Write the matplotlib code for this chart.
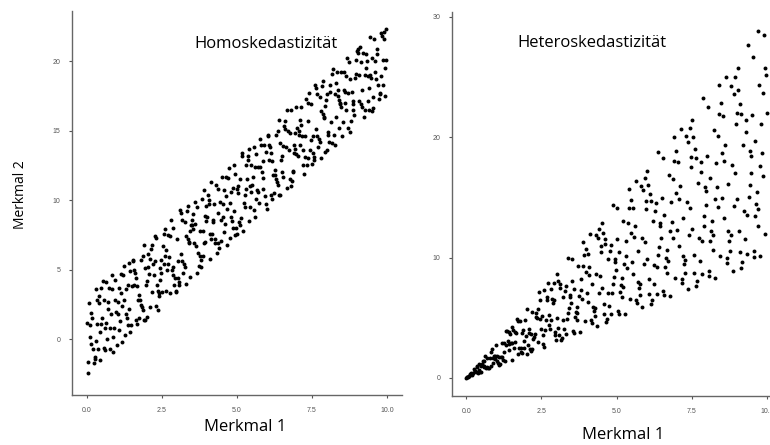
import matplotlib
matplotlib.use("Agg")
import matplotlib.pyplot as plt

# Homoskedastizität: Merkmal 1 / Merkmal 2 (je Streifen von 0.5)
homo_x = [0.31, 0.07, 0.44, 0.18, 0.02, 0.39, 0.26, 0.11, 0.48, 0.21, 0.35, 0.04, 0.15, 0.42, 0.29, 0.09, 0.37, 0.23, 0.46, 0.13, 0.33, 0.01, 0.27, 0.40,
          0.83, 0.56, 0.97, 0.64, 0.51, 0.78, 0.90, 0.69, 0.59, 0.86, 0.73, 0.95, 0.53, 0.67, 0.81, 0.61, 0.92, 0.76, 0.58, 0.88, 0.70, 0.99, 0.63, 0.85,
          1.27, 1.04, 1.41, 1.13, 1.36, 1.08, 1.22, 1.47, 1.02, 1.31, 1.18, 1.44, 1.10, 1.25, 1.39, 1.06, 1.33, 1.16, 1.49, 1.20, 1.29, 1.43, 1.12, 1.37,
          1.77, 1.54, 1.91, 1.63, 1.86, 1.58, 1.72, 1.97, 1.52, 1.81, 1.68, 1.94, 1.60, 1.75, 1.89, 1.56, 1.83, 1.66, 1.99, 1.70, 1.79, 1.93, 1.62, 1.87,
          2.31, 2.07, 2.44, 2.18, 2.02, 2.39, 2.26, 2.11, 2.48, 2.21, 2.35, 2.04, 2.15, 2.42, 2.29, 2.09, 2.37, 2.23, 2.46, 2.13, 2.33, 2.01, 2.27, 2.40,
          2.83, 2.56, 2.97, 2.64, 2.51, 2.78, 2.90, 2.69, 2.59, 2.86, 2.73, 2.95, 2.53, 2.67, 2.81, 2.61, 2.92, 2.76, 2.58, 2.88, 2.70, 2.99, 2.63, 2.85,
          3.27, 3.04, 3.41, 3.13, 3.36, 3.08, 3.22, 3.47, 3.02, 3.31, 3.18, 3.44, 3.10, 3.25, 3.39, 3.06, 3.33, 3.16, 3.49, 3.20, 3.29, 3.43, 3.12, 3.37,
          3.81, 3.57, 3.94, 3.68, 3.52, 3.89, 3.76, 3.61, 3.98, 3.71, 3.85, 3.54, 3.65, 3.92, 3.79, 3.59, 3.87, 3.73, 3.96, 3.63, 3.83, 3.51, 3.77, 3.90,
          4.33, 4.06, 4.47, 4.14, 4.01, 4.28, 4.40, 4.19, 4.09, 4.36, 4.23, 4.45, 4.03, 4.17, 4.31, 4.11, 4.42, 4.26, 4.08, 4.38, 4.20, 4.49, 4.13, 4.35,
          4.77, 4.54, 4.91, 4.63, 4.86, 4.58, 4.72, 4.97, 4.52, 4.81, 4.68, 4.94, 4.60, 4.75, 4.89, 4.56, 4.83, 4.66, 4.99, 4.70, 4.79, 4.93, 4.62, 4.87,
          5.31, 5.07, 5.44, 5.18, 5.02, 5.39, 5.26, 5.11, 5.48, 5.21, 5.35, 5.04, 5.15, 5.42, 5.29, 5.09, 5.37, 5.23, 5.46, 5.13, 5.33, 5.01, 5.27, 5.40,
          5.83, 5.56, 5.97, 5.64, 5.51, 5.78, 5.90, 5.69, 5.59, 5.86, 5.73, 5.95, 5.53, 5.67, 5.81, 5.61, 5.92, 5.76, 5.58, 5.88, 5.70, 5.99, 5.63, 5.85,
          6.27, 6.04, 6.41, 6.13, 6.36, 6.08, 6.22, 6.47, 6.02, 6.31, 6.18, 6.44, 6.10, 6.25, 6.39, 6.06, 6.33, 6.16, 6.49, 6.20, 6.29, 6.43, 6.12, 6.37,
          6.81, 6.57, 6.94, 6.68, 6.52, 6.89, 6.76, 6.61, 6.98, 6.71, 6.85, 6.54, 6.65, 6.92, 6.79, 6.59, 6.87, 6.73, 6.96, 6.63, 6.83, 6.51, 6.77, 6.90,
          7.33, 7.06, 7.47, 7.14, 7.01, 7.28, 7.40, 7.19, 7.09, 7.36, 7.23, 7.45, 7.03, 7.17, 7.31, 7.11, 7.42, 7.26, 7.08, 7.38, 7.20, 7.49, 7.13, 7.35,
          7.77, 7.54, 7.91, 7.63, 7.86, 7.58, 7.72, 7.97, 7.52, 7.81, 7.68, 7.94, 7.60, 7.75, 7.89, 7.56, 7.83, 7.66, 7.99, 7.70, 7.79, 7.93, 7.62, 7.87,
          8.31, 8.07, 8.44, 8.18, 8.02, 8.39, 8.26, 8.11, 8.48, 8.21, 8.35, 8.04, 8.15, 8.42, 8.29, 8.09, 8.37, 8.23, 8.46, 8.13, 8.33, 8.01, 8.27, 8.40,
          8.83, 8.56, 8.97, 8.64, 8.51, 8.78, 8.90, 8.69, 8.59, 8.86, 8.73, 8.95, 8.53, 8.67, 8.81, 8.61, 8.92, 8.76, 8.58, 8.88, 8.70, 8.99, 8.63, 8.85,
          9.27, 9.04, 9.41, 9.13, 9.36, 9.08, 9.22, 9.47, 9.02, 9.31, 9.18, 9.44, 9.10, 9.25, 9.39, 9.06, 9.33, 9.16, 9.49, 9.20, 9.29, 9.43, 9.12, 9.37,
          9.81, 9.57, 9.94, 9.68, 9.52, 9.89, 9.76, 9.61, 9.98, 9.71, 9.85, 9.54, 9.65, 9.92, 9.79, 9.59, 9.87, 9.73, 9.96, 9.63, 9.83, 9.51, 9.77, 9.90]
homo_y = [-0.1, 2.6, -1.5, 1.5, -1.6, 2.6, -1.4, 0.2, 3.7, -0.7, 1.1, -2.4, 1.9, 0.5, 3.6, 1.0, -0.7, -1.7, 1.1, -0.3, 2.8, 1.2, -1.3, 3.1,
          3.6, -0.6, 2.0, 4.1, 1.5, -0.7, 0.8, 2.7, 0.8, -0.9, 3.7, 2.8, 4.2, 0.0, 1.8, -0.8, 4.3, 0.8, 2.8, 0.2, 2.2, -0.4, 1.2, 4.6,
          0.3, 2.7, 2.2, 4.7, 3.9, 0.7, 5.3, 1.0, 1.8, 3.6, -0.2, 4.9, 1.3, 2.8, 5.5, 3.7, 1.5, 2.4, 3.8, 4.6, 1.8, 0.5, 3.3, 1.0,
          2.8, 5.6, 1.4, 4.4, 2.1, 5.0, 1.5, 3.9, 5.7, 2.5, 3.8, 1.4, 4.8, 3.2, 6.8, 3.9, 2.3, 1.1, 4.2, 2.8, 5.7, 5.1, 1.4, 6.0,
          2.4, 4.7, 4.3, 6.8, 5.2, 3.3, 7.4, 2.3, 4.8, 5.4, 2.1, 6.1, 3.4, 5.1, 7.3, 5.8, 3.5, 4.6, 5.7, 6.5, 3.9, 1.6, 5.6, 3.1,
          5.0, 7.6, 3.5, 6.4, 3.4, 7.4, 3.9, 5.4, 7.9, 4.6, 5.9, 3.4, 6.7, 5.0, 8.6, 6.0, 4.4, 3.3, 5.4, 5.2, 7.5, 7.2, 3.5, 8.0,
          8.4, 4.4, 6.9, 9.1, 7.2, 3.9, 5.4, 8.2, 5.6, 4.0, 8.6, 7.8, 9.3, 5.2, 7.0, 4.1, 9.2, 5.6, 8.6, 4.8, 7.4, 4.5, 6.1, 9.6,
          5.7, 6.9, 8.9, 4.8, 9.0, 6.9, 7.8, 9.9, 9.6, 6.2, 7.8, 7.9, 9.5, 7.0, 5.2, 8.3, 6.0, 5.3, 8.5, 6.7, 10.1, 8.2, 6.0, 10.7,
          6.2, 9.7, 8.6, 11.3, 8.8, 7.2, 6.6, 8.6, 7.6, 10.8, 9.7, 7.1, 10.4, 7.6, 11.1, 5.8, 9.9, 6.9, 10.0, 6.9, 8.4, 11.7, 7.2, 9.1,
          7.3, 9.7, 9.2, 11.7, 10.9, 7.7, 12.3, 8.0, 8.8, 10.6, 6.8, 11.9, 8.3, 9.8, 12.5, 10.7, 8.5, 9.4, 10.8, 11.6, 8.8, 7.5, 10.3, 8.0,
          12.5, 8.4, 11.0, 13.2, 10.5, 8.5, 9.5, 11.5, 10.6, 7.8, 12.9, 11.0, 13.4, 9.5, 10.8, 8.2, 13.2, 9.8, 12.5, 8.7, 11.5, 7.6, 10.4, 13.7,
          12.0, 13.8, 13.5, 10.1, 11.1, 12.4, 14.0, 10.6, 8.8, 12.8, 9.8, 9.7, 11.7, 10.7, 14.0, 12.4, 10.3, 14.4, 9.3, 11.6, 12.4, 9.4, 13.3, 10.8,
          11.8, 14.6, 10.4, 13.4, 11.1, 14.0, 10.5, 12.9, 14.7, 11.5, 12.8, 10.4, 13.8, 12.2, 15.8, 12.9, 11.3, 10.1, 13.2, 11.8, 14.7, 14.1, 10.4, 15.0,
          11.0, 15.3, 14.8, 16.5, 11.7, 14.0, 11.5, 15.7, 13.3, 15.0, 12.1, 13.9, 10.9, 13.7, 16.5, 15.1, 12.0, 13.6, 16.7, 13.8, 11.4, 12.0, 14.8, 13.4,
          12.5, 14.7, 14.3, 16.7, 15.2, 13.1, 17.7, 12.5, 14.0, 15.7, 11.9, 16.9, 13.2, 14.6, 17.3, 15.8, 13.6, 14.6, 15.0, 17.0, 13.6, 12.6, 15.4, 13.0,
          17.4, 13.4, 15.9, 18.1, 16.2, 12.9, 14.4, 17.2, 14.6, 13.0, 17.6, 16.8, 18.3, 14.2, 16.0, 13.1, 18.2, 14.6, 17.6, 13.8, 16.4, 13.5, 15.1, 18.6,
          18.4, 14.2, 16.9, 19.1, 14.9, 17.2, 14.0, 17.8, 16.7, 19.4, 17.5, 14.7, 14.1, 17.0, 16.0, 18.3, 17.9, 14.7, 19.2, 15.6, 19.2, 13.6, 17.6, 15.2,
          17.8, 17.9, 20.1, 16.5, 14.6, 18.7, 16.1, 15.2, 17.8, 17.1, 19.9, 19.1, 15.6, 20.2, 15.7, 17.0, 18.8, 14.9, 19.2, 16.9, 17.7, 20.7, 18.9, 16.5,
          16.5, 20.6, 18.1, 19.9, 17.1, 19.0, 16.0, 18.8, 20.9, 20.5, 16.7, 19.0, 21.0, 19.0, 16.5, 17.1, 20.0, 17.9, 16.4, 20.6, 19.5, 21.7, 16.9, 18.9,
          18.9, 21.6, 17.5, 20.5, 17.4, 21.6, 17.6, 19.2, 22.3, 18.3, 20.1, 16.6, 20.9, 19.5, 22.0, 20.0, 18.3, 17.3, 20.1, 18.7, 21.8, 20.2, 17.7, 22.1]

# Heteroskedastizität: Merkmal 1 / Merkmal 2
hetero_x = [0.31, 0.07, 0.44, 0.18, 0.02, 0.39, 0.26, 0.11, 0.48, 0.21, 0.35, 0.04, 0.15, 0.42, 0.29, 0.09, 0.37, 0.23, 0.46, 0.13, 0.33, 0.01,
            0.83, 0.56, 0.97, 0.64, 0.51, 0.78, 0.90, 0.69, 0.59, 0.86, 0.73, 0.95, 0.53, 0.67, 0.81, 0.61, 0.92, 0.76, 0.58, 0.88, 0.70, 0.99,
            1.27, 1.04, 1.41, 1.13, 1.36, 1.08, 1.22, 1.47, 1.02, 1.31, 1.18, 1.44, 1.10, 1.25, 1.39, 1.06, 1.33, 1.16, 1.49, 1.20, 1.29, 1.43,
            1.81, 1.57, 1.94, 1.68, 1.52, 1.89, 1.76, 1.61, 1.98, 1.71, 1.85, 1.54, 1.65, 1.92, 1.79, 1.59, 1.87, 1.73, 1.96, 1.63, 1.83, 1.51,
            2.33, 2.06, 2.47, 2.14, 2.01, 2.28, 2.40, 2.19, 2.09, 2.36, 2.23, 2.45, 2.03, 2.17, 2.31, 2.11, 2.42, 2.26, 2.08, 2.38, 2.20, 2.49,
            2.77, 2.54, 2.91, 2.63, 2.86, 2.58, 2.72, 2.97, 2.52, 2.81, 2.68, 2.94, 2.60, 2.75, 2.89, 2.56, 2.83, 2.66, 2.99, 2.70, 2.79, 2.93,
            3.31, 3.07, 3.44, 3.18, 3.02, 3.39, 3.26, 3.11, 3.48, 3.21, 3.35, 3.04, 3.15, 3.42, 3.29, 3.09, 3.37, 3.23, 3.46, 3.13, 3.33, 3.01,
            3.83, 3.56, 3.97, 3.64, 3.51, 3.78, 3.90, 3.69, 3.59, 3.86, 3.73, 3.95, 3.53, 3.67, 3.81, 3.61, 3.92, 3.76, 3.58, 3.88, 3.70, 3.99,
            4.27, 4.04, 4.41, 4.13, 4.36, 4.08, 4.22, 4.47, 4.02, 4.31, 4.18, 4.44, 4.10, 4.25, 4.39, 4.06, 4.33, 4.16, 4.49, 4.20, 4.29, 4.43,
            4.81, 4.57, 4.94, 4.68, 4.52, 4.89, 4.76, 4.61, 4.98, 4.71, 4.85, 4.54, 4.65, 4.92, 4.79, 4.59, 4.87, 4.73, 4.96, 4.63, 4.83, 4.51,
            5.33, 5.06, 5.47, 5.14, 5.01, 5.28, 5.40, 5.19, 5.09, 5.36, 5.23, 5.45, 5.03, 5.17, 5.31, 5.11, 5.42, 5.26, 5.08, 5.38, 5.20, 5.49,
            5.77, 5.54, 5.91, 5.63, 5.86, 5.58, 5.72, 5.97, 5.52, 5.81, 5.68, 5.94, 5.60, 5.75, 5.89, 5.56, 5.83, 5.66, 5.99, 5.70, 5.79, 5.93,
            6.31, 6.07, 6.44, 6.18, 6.02, 6.39, 6.26, 6.11, 6.48, 6.21, 6.35, 6.04, 6.15, 6.42, 6.29, 6.09, 6.37, 6.23, 6.46, 6.13, 6.33, 6.01,
            6.83, 6.56, 6.97, 6.64, 6.51, 6.78, 6.90, 6.69, 6.59, 6.86, 6.73, 6.95, 6.53, 6.67, 6.81, 6.61, 6.92, 6.76, 6.58, 6.88, 6.70, 6.99,
            7.27, 7.04, 7.41, 7.13, 7.36, 7.08, 7.22, 7.47, 7.02, 7.31, 7.18, 7.44, 7.10, 7.25, 7.39, 7.06, 7.33, 7.16, 7.49, 7.20, 7.29, 7.43,
            7.81, 7.57, 7.94, 7.68, 7.52, 7.89, 7.76, 7.61, 7.98, 7.71, 7.85, 7.54, 7.65, 7.92, 7.79, 7.59, 7.87, 7.73, 7.96, 7.63, 7.83, 7.51,
            8.33, 8.06, 8.47, 8.14, 8.01, 8.28, 8.40, 8.19, 8.09, 8.36, 8.23, 8.45, 8.03, 8.17, 8.31, 8.11, 8.42, 8.26, 8.08, 8.38, 8.20, 8.49,
            8.77, 8.54, 8.91, 8.63, 8.86, 8.58, 8.72, 8.97, 8.52, 8.81, 8.68, 8.94, 8.60, 8.75, 8.89, 8.56, 8.83, 8.66, 8.99, 8.70, 8.79, 8.93,
            9.31, 9.07, 9.44, 9.18, 9.02, 9.39, 9.26, 9.11, 9.48, 9.21, 9.35, 9.04, 9.15, 9.42, 9.29, 9.09, 9.37, 9.23, 9.46, 9.13, 9.33, 9.01,
            9.83, 9.56, 9.97, 9.64, 9.51, 9.78, 9.90, 9.69, 9.59, 9.86, 9.73, 9.95, 9.53, 9.67, 9.81, 9.61, 9.92, 9.76, 9.58, 9.88, 9.70, 9.99, 9.70]
hetero_y = [0.59, 0.08, 1.19, 0.27, 0.05, 0.39, 0.75, 0.14, 0.98, 0.36, 0.88, 0.05, 0.42, 0.67, 0.62, 0.13, 0.96, 0.41, 0.48, 0.31, 0.48, 0.02,
            1.00, 1.43, 1.55, 1.86, 0.51, 1.64, 1.26, 1.62, 1.03, 2.37, 0.80, 1.81, 1.19, 0.87, 2.15, 0.95, 1.84, 0.87, 1.42, 1.63, 0.95, 2.77,
            2.92, 1.40, 2.82, 1.19, 3.88, 1.73, 1.53, 3.68, 1.84, 2.75, 1.71, 3.82, 1.10, 2.13, 3.06, 1.22, 3.92, 1.74, 2.91, 2.88, 1.42, 2.36,
            2.17, 4.00, 3.10, 4.87, 1.52, 3.97, 2.46, 3.78, 3.47, 4.70, 2.04, 2.93, 3.71, 2.50, 4.74, 2.46, 3.74, 1.99, 4.80, 3.02, 2.47, 4.23,
            5.36, 2.78, 4.94, 2.25, 5.73, 3.65, 3.00, 5.48, 3.76, 4.96, 3.23, 6.49, 2.03, 3.69, 5.08, 2.43, 7.14, 3.39, 4.06, 5.71, 2.42, 4.11,
            5.26, 2.79, 7.86, 3.95, 6.58, 2.58, 7.89, 3.86, 5.17, 4.78, 6.70, 3.53, 7.28, 4.40, 6.21, 3.58, 7.36, 4.79, 3.14, 6.48, 4.05, 6.45,
            7.61, 4.14, 6.88, 3.34, 8.61, 5.42, 4.08, 7.78, 6.26, 6.74, 4.86, 8.06, 3.15, 5.81, 7.24, 3.55, 9.94, 4.85, 6.75, 7.51, 3.66, 4.97,
            7.28, 3.92, 10.72, 5.46, 8.07, 3.78, 11.31, 4.80, 7.36, 6.56, 9.33, 4.74, 9.88, 5.87, 8.19, 5.05, 10.19, 6.77, 3.76, 9.31, 5.37, 8.78,
            5.12, 10.30, 7.06, 11.98, 4.36, 8.57, 5.91, 10.50, 7.04, 11.85, 4.60, 8.44, 9.23, 5.53, 11.63, 6.29, 8.66, 4.78, 11.00, 7.77, 5.79, 12.40,
            11.06, 6.17, 9.88, 4.91, 12.88, 7.82, 5.95, 11.53, 8.96, 9.89, 7.03, 12.03, 4.65, 8.36, 10.54, 5.28, 14.37, 7.10, 9.67, 11.11, 5.31, 7.44,
            10.13, 5.57, 14.77, 7.71, 11.52, 5.28, 15.66, 6.75, 10.43, 9.11, 13.08, 6.54, 14.08, 8.27, 11.42, 7.15, 14.09, 9.47, 5.33, 12.91, 7.54, 12.08,
            6.92, 14.13, 9.46, 16.33, 5.86, 11.72, 8.01, 14.03, 9.66, 15.98, 6.25, 11.29, 12.60, 7.48, 15.61, 8.62, 11.66, 6.51, 14.68, 10.55, 7.82, 16.60,
            14.51, 8.19, 12.88, 6.49, 17.16, 10.22, 7.83, 15.28, 11.66, 13.04, 9.21, 16.01, 6.15, 10.91, 13.84, 7.00, 18.79, 9.35, 12.60, 14.71, 6.96, 9.92,
            12.98, 7.22, 18.82, 9.96, 14.97, 6.78, 20.01, 8.70, 13.51, 11.66, 16.83, 8.34, 18.28, 10.67, 14.64, 9.25, 17.99, 12.17, 6.91, 16.51, 9.72, 15.38,
            8.72, 17.95, 11.86, 20.68, 7.36, 14.87, 10.11, 17.55, 12.29, 20.10, 7.90, 14.14, 15.98, 9.43, 19.58, 10.94, 14.66, 8.23, 18.35, 13.32, 9.84, 20.80,
            17.96, 10.22, 15.88, 8.06, 21.43, 12.62, 9.70, 19.03, 14.36, 16.19, 11.38, 19.98, 7.65, 13.46, 17.14, 8.73, 23.22, 11.60, 15.52, 18.31, 8.61, 12.39,
            15.83, 8.87, 22.87, 12.21, 18.42, 8.28, 24.36, 10.65, 16.58, 14.21, 20.58, 10.14, 22.48, 13.07, 17.87, 11.35, 21.89, 14.87, 8.48, 20.11, 11.89, 18.68,
            10.52, 21.78, 14.26, 25.03, 8.86, 18.02, 12.21, 21.08, 14.91, 24.23, 9.55, 16.99, 19.35, 11.38, 23.56, 13.27, 17.66, 9.96, 22.03, 16.10, 11.87, 25.00,
            21.41, 12.24, 18.88, 9.64, 25.71, 15.02, 11.58, 22.78, 17.06, 19.34, 13.56, 23.96, 9.15, 16.01, 20.44, 10.45, 27.64, 13.85, 18.45, 21.91, 10.26, 14.87,
            18.68, 10.52, 25.20, 14.46, 21.87, 10.10, 28.50, 12.60, 19.66, 16.76, 24.33, 11.94, 26.68, 15.47, 21.09, 13.45, 25.79, 17.57, 10.06, 23.71, 14.07, 21.98, 28.80]

x_ticks = [0.0, 2.5, 5.0, 7.5, 10.0]
homo_yticks = [0, 5, 10, 15, 20]
hetero_yticks = [0, 10, 20, 30]

fig = plt.figure(figsize=(7.7, 4.45), dpi=100)
ax1 = fig.add_axes([0.0935, 0.1124, 0.4286, 0.8629])
ax2 = fig.add_axes([0.587, 0.110, 0.413, 0.863])

def stil(ax):
    for s in ['top', 'right']:
        ax.spines[s].set_visible(False)
    for s in ['left', 'bottom']:
        ax.spines[s].set_color('#666666')
        ax.spines[s].set_linewidth(1.0)
    ax.tick_params(colors='#555555', labelsize=5, length=2.5, width=0.8, pad=6)
    ax.set_xticks(x_ticks)
    ax.set_xticklabels(['%.1f' % t for t in x_ticks])
    for lab in ax.get_xticklabels() + ax.get_yticklabels():
        lab.set_family('Liberation Sans')

ax1.scatter(homo_x, homo_y, s=8, c='black', linewidths=0)
ax1.set_xlim(-0.5, 10.5)
ax1.set_ylim(-4.0, 23.6)
ax1.set_yticks(homo_yticks)
stil(ax1)
ax1.text(5.97, 21.2, 'Homoskedastizität', ha='center', va='center', fontsize=12, family='Open Sans')

ax2.scatter(hetero_x, hetero_y, s=8, c='black', linewidths=0)
ax2.set_xlim(-0.47, 10.1)
ax2.set_ylim(-1.5, 30.4)
ax2.set_yticks(hetero_yticks)
stil(ax2)
ax2.text(4.19, 27.85, 'Heteroskedastizität', ha='center', va='center', fontsize=12, family='Open Sans')

fig.text(0.026, 0.562, 'Merkmal 2', rotation=90, ha='center', va='center', fontsize=10, family='Open Sans')
fig.text(0.318, 0.040, 'Merkmal 1', ha='center', va='center', fontsize=12, family='Open Sans')
fig.text(0.809, 0.022, 'Merkmal 1', ha='center', va='center', fontsize=12, family='Open Sans')

fig.savefig('out.png', dpi=100)
